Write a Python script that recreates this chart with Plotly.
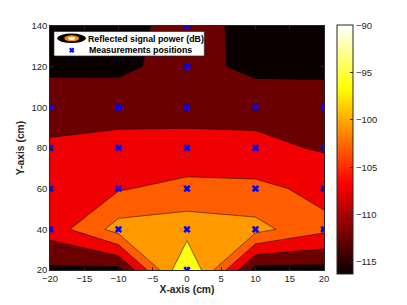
import plotly.graph_objects as go

# ---------------- data ----------------
x_grid = [-20, -10, 0, 10, 20]                 # cm
y_grid = [20, 40, 60, 80, 100, 120, 140]       # cm
# reflected signal power (dB), rows follow y_grid, columns follow x_grid
power_y20 = [-112.7, -113.2, -91.27, -113.6, -113.3]
power_y40 = [-106.3, -98.4, -97.84, -98.67, -103.1]
power_y60 = [-105.5, -104.33, -102.69, -103.08, -105.0]
power_y80 = [-107.0, -106.5, -107.2, -107.0, -108.4]
power_y100 = [-110.85, -109.76, -108.85, -109.33, -110.0]
power_y120 = [-112.41, -112.81, -110.5, -113.09, -112.94]
power_y140 = [-114.0, -113.5, -110.3, -113.36, -114.5]
power = [power_y20, power_y40, power_y60, power_y80, power_y100, power_y120, power_y140]

meas_x = [-20, -20, -20, -20, -10, -10, -10, -10, 0, 0, 0, 0, 0, 0, 0, 10, 10, 10, 10, 20, 20, 20, 20]
meas_y = [40, 60, 80, 100, 40, 60, 80, 100, 20, 40, 60, 80, 100, 120, 140, 40, 60, 80, 100, 40, 60, 80, 100]

level_start, level_end, level_size = -112, -96, 4
cbar_min, cbar_max = -116.3, -90
cbar_ticks = [-115, -110, -105, -100, -95, -90]
x_ticks = [-20, -15, -10, -5, 0, 5, 10, 15, 20]
y_ticks = [20, 40, 60, 80, 100, 120, 140]

band_colors = ["#0a0000", "#6b0000", "#f00000", "#ff5e00", "#ff9900", "#ffff12"]
hot = [[0, "rgb(11,0,0)"], [0.365, "rgb(255,0,0)"], [0.746, "rgb(255,255,0)"], [1, "rgb(255,255,255)"]]

# ---------------- figure ----------------
OFF = 8  # page body margin
W, H = 407 - OFF, 305 - OFF
ML, MT = 47 - OFF, 23 - OFF
PW, PH = 277, 248
MR, MB = W - ML - PW, H - MT - PH

def px(xp):  # page pixel -> paper
    return (xp - OFF - ML) / PW

def py(yp):
    return (MT + PH - (yp - OFF)) / PH

FONT = "Liberation Sans, Arial, sans-serif"
AXC = "#262626"

fig = go.Figure()

# invisible heatmap only to carry the continuous colorbar
fig.add_trace(go.Heatmap(
    x=x_grid, y=y_grid, z=power, opacity=0, zmin=cbar_min, zmax=cbar_max,
    colorscale=hot, hoverinfo="skip",
    colorbar=dict(
        x=px(337.3), xanchor="left", xpad=0, y=py(22.3), yanchor="top", ypad=0,
        lenmode="pixels", len=249.4, thickness=16,
        outlinecolor=AXC, outlinewidth=1,
        tickmode="array", tickvals=cbar_ticks, ticks="inside", ticklen=3,
        tickcolor=AXC, tickfont=dict(family=FONT, size=9.5, color=AXC),
    ),
))

n = len(band_colors)
fig.add_trace(go.Contour(
    x=x_grid, y=y_grid, z=power,
    autocontour=False,
    contours=dict(start=level_start, end=level_end, size=level_size, coloring="fill", showlines=True),
    colorscale=[[i / (n - 1), c] for i, c in enumerate(band_colors)],
    line=dict(color="rgba(0,0,0,0.85)", width=0.6, smoothing=0),
    showscale=False, hoverinfo="skip",
))

fig.add_trace(go.Scatter(
    x=meas_x, y=meas_y, mode="markers",
    marker=dict(symbol="x", size=6.5, color="#0000ff", line=dict(width=0)),
    showlegend=False, hoverinfo="skip",
))

axis_common = dict(
    showgrid=False, zeroline=False, showline=True, linecolor=AXC, linewidth=0.7,
    mirror="ticks", ticks="inside", ticklen=3, tickcolor=AXC, tickwidth=0.7,
    tickfont=dict(family=FONT, size=9.5, color=AXC),
)
fig.update_xaxes(range=[-20, 20], tickvals=x_ticks,
                 title=dict(text="<b>X-axis (cm)</b>", font=dict(family=FONT, size=10.3, color=AXC), standoff=2),
                 **axis_common)
fig.update_yaxes(range=[20, 140], tickvals=y_ticks,
                 title=dict(text="<b>Y-axis (cm)</b>", font=dict(family=FONT, size=10.3, color=AXC), standoff=4),
                 **axis_common)

# manual legend (Matlab-style)
shapes = [
    dict(type="rect", xref="paper", yref="paper", x0=px(51), x1=px(203), y0=py(53.5), y1=py(28.5),
         fillcolor="white", line=dict(color=AXC, width=0.7), layer="above"),
    dict(type="circle", xref="paper", yref="paper", x0=px(54.3), x1=px(83.3), y0=py(40.3), y1=py(30.7),
         fillcolor="#050000", line=dict(width=0), layer="above"),
    dict(type="circle", xref="paper", yref="paper", x0=px(61.5), x1=px(76.5), y0=py(38.6), y1=py(32.4),
         fillcolor="#f58a00", line=dict(width=0), layer="above"),
    dict(type="circle", xref="paper", yref="paper", x0=px(65.5), x1=px(72.5), y0=py(37.2), y1=py(33.8),
         fillcolor="white", line=dict(width=0), layer="above"),
    dict(type="path", xref="paper", yref="paper",
         path="M %f %f L %f %f M %f %f L %f %f" % (px(67), py(45.7), px(71), py(49.7), px(67), py(49.7), px(71), py(45.7)),
         line=dict(color="#0000ff", width=2), layer="above"),
]
annotations = [
    dict(xref="paper", yref="paper", x=px(83.7), y=py(36), xanchor="left", yanchor="middle",
         text="<b>Reflected signal power (dB)</b>", showarrow=False,
         font=dict(family=FONT, size=8.8, color="black")),
    dict(xref="paper", yref="paper", x=px(84), y=py(47.7), xanchor="left", yanchor="middle",
         text="<b>Measurements positions</b>", showarrow=False,
         font=dict(family=FONT, size=8.8, color="black")),
]

fig.update_layout(
    width=W, height=H, margin=dict(l=ML, r=MR, t=MT, b=MB, pad=0),
    paper_bgcolor="white", plot_bgcolor="white",
    shapes=shapes, annotations=annotations, showlegend=False,
    font=dict(family=FONT, color=AXC),
)

fig.write_html("out.html")
